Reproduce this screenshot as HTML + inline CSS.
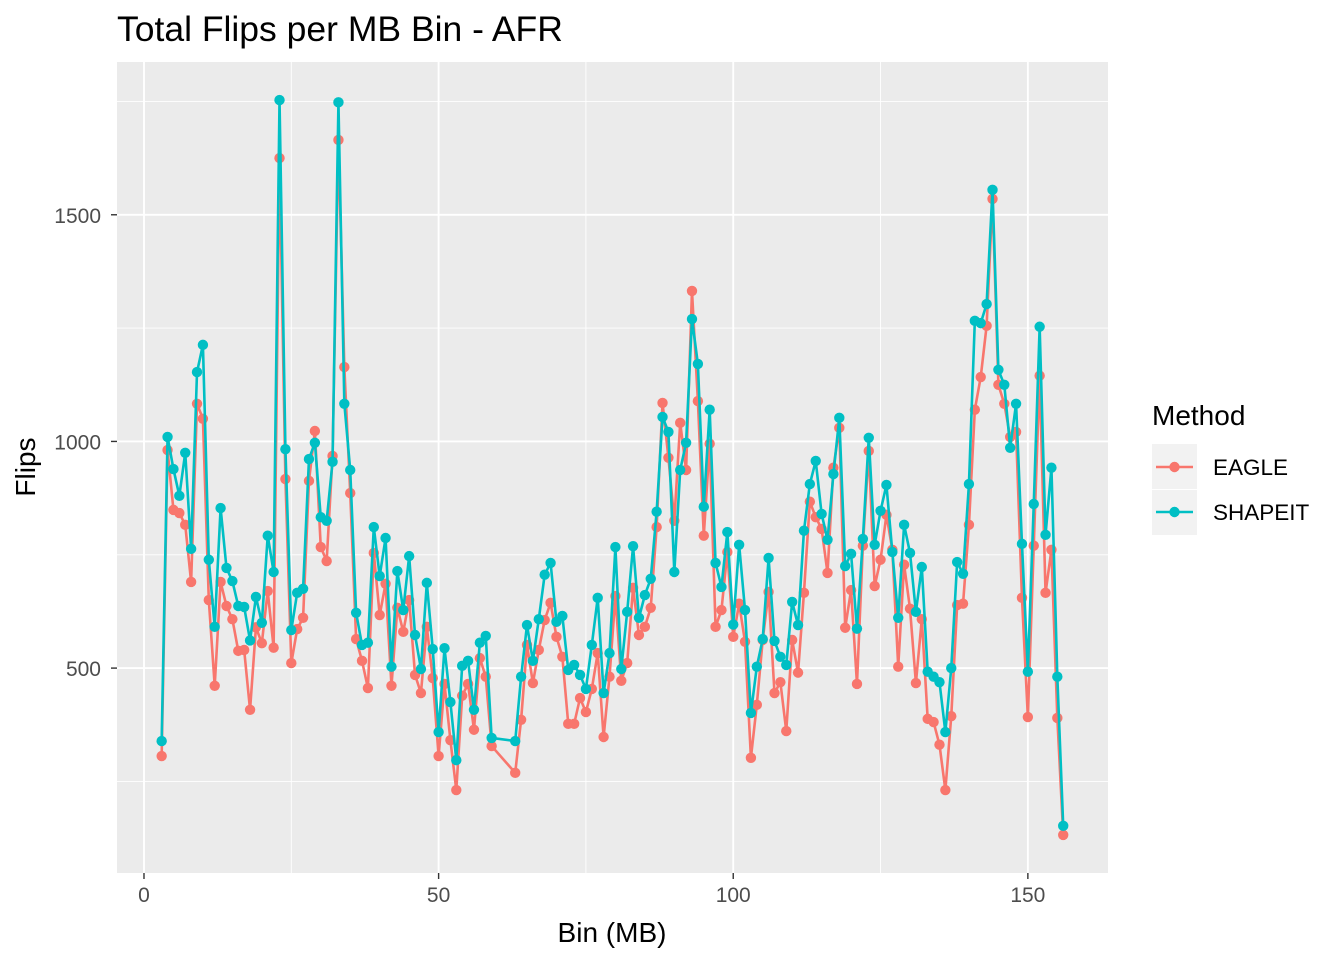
<!DOCTYPE html>
<html><head><meta charset="utf-8"><style>
body{margin:0;background:#fff;}
svg text{font-family:"Liberation Sans",sans-serif;}
</style></head><body>
<svg id="chart" width="1344" height="960" xmlns="http://www.w3.org/2000/svg">
<rect x="117" y="62" width="991" height="811" fill="#ebebeb"/>
<g id="grid"></g>
<g id="series"></g>
<g id="axes"></g>
<text x="117" y="41" font-size="35.5" fill="#000">Total Flips per MB Bin - AFR</text>
<text x="612" y="942" font-size="28" text-anchor="middle" fill="#000">Bin (MB)</text>
<text transform="translate(35,467) rotate(-90)" font-size="28" text-anchor="middle" fill="#000">Flips</text>
<g>
<text x="1152" y="425" font-size="28" fill="#000">Method</text>
<g>
<rect x="1152" y="444" width="45" height="45" fill="#f2f2f2"/>
<line x1="1156" y1="467" x2="1193" y2="467" stroke="#F8766D" stroke-width="2.6"/>
<circle cx="1174.5" cy="467" r="5.2" fill="#F8766D"/>
<text x="1213" y="475" font-size="22.5" fill="#000">EAGLE</text></g>
<g>
<rect x="1152" y="490" width="45" height="45" fill="#f2f2f2"/>
<line x1="1156" y1="512" x2="1193" y2="512" stroke="#00BFC4" stroke-width="2.6"/>
<circle cx="1174.5" cy="512" r="5.2" fill="#00BFC4"/>
<text x="1213" y="520" font-size="22.5" fill="#000">SHAPEIT</text></g>
</g>
</svg>
<script>
const bins = [3,4,5,6,7,8,9,10,11,12,13,14,15,16,17,18,19,20,21,22,23,24,25,26,27,28,29,30,31,32,33,34,35,36,37,38,39,40,41,42,43,44,45,46,47,48,49,50,51,52,53,54,55,56,57,58,59,63,64,65,66,67,68,69,70,71,72,73,74,75,76,77,78,79,80,81,82,83,84,85,86,87,88,89,90,91,92,93,94,95,96,97,98,99,100,101,102,103,104,105,106,107,108,109,110,111,112,113,114,115,116,117,118,119,120,121,122,123,124,125,126,127,128,129,130,131,132,133,134,135,136,137,138,139,140,141,142,143,144,145,146,147,148,149,150,151,152,153,154,155,156];
const eagle = [306,981,849,842,816,690,1083,1050,650,461,690,637,608,538,540,408,590,555,670,545,1625,917,511,586,611,913,1023,767,736,968,1665,1164,886,564,516,456,754,617,686,461,633,580,650,485,445,591,478,306,465,341,231,439,465,364,522,481,328,269,386,551,467,540,606,644,569,525,377,377,434,403,454,533,348,481,659,472,511,677,573,591,633,811,1085,964,825,1041,937,1332,1089,792,995,591,628,756,569,642,558,302,419,562,668,445,469,361,562,490,666,867,833,807,710,942,1030,589,672,465,770,979,681,739,838,761,503,728,631,467,608,388,381,331,231,394,639,642,816,1070,1142,1255,1535,1125,1083,1010,1021,655,392,770,1145,666,761,390,132];
const shapeit = [339,1010,939,880,975,763,1153,1213,739,591,853,721,692,637,635,561,657,600,792,712,1753,983,584,666,675,961,997,833,825,955,1748,1083,937,622,551,556,811,703,787,503,714,628,747,573,498,688,542,359,544,425,297,505,516,408,556,571,346,339,481,595,516,608,706,732,602,615,496,507,485,454,551,655,445,533,767,498,624,769,611,661,697,845,1054,1021,712,937,997,1270,1171,856,1070,732,679,800,596,772,628,401,503,564,743,560,525,507,646,595,803,906,957,840,783,928,1052,725,752,587,785,1008,772,847,904,756,611,816,754,624,723,492,481,469,359,500,734,708,906,1266,1261,1303,1555,1158,1125,986,1083,774,492,862,1253,794,942,481,152];
const xTicks = [0,50,100,150];
const yTicks = [500,1000,1500];
const xMinor = [25,75,125];
const yMinor = [250,750,1250,1750];

const X0=117,X1=1108,Y0=62,Y1=873;
const xMin=-4.58,xMax=163.6,yMin=48,yMax=1837;
function xs(v){return X0+(v-xMin)/(xMax-xMin)*(X1-X0);}
function ys(v){return Y1-(v-yMin)/(yMax-yMin)*(Y1-Y0);}
const NS="http://www.w3.org/2000/svg";
function mk(tag,attrs,parent){const e=document.createElementNS(NS,tag);for(const k in attrs)e.setAttribute(k,attrs[k]);parent.appendChild(e);return e;}
const grid=document.getElementById('grid'),axes=document.getElementById('axes'),series=document.getElementById('series');
yMinor.forEach(v=>{const l=mk('line',{x1:X0,x2:X1,y1:ys(v),y2:ys(v),stroke:'#fff','stroke-width':0.9},grid);

});
xMinor.forEach(v=>{const l=mk('line',{x1:xs(v),x2:xs(v),y1:Y0,y2:Y1,stroke:'#fff','stroke-width':0.9},grid);

});
yTicks.forEach(v=>{const l=mk('line',{x1:X0,x2:X1,y1:ys(v),y2:ys(v),stroke:'#fff','stroke-width':1.9},grid);


const t=mk('line',{x1:X0-6,x2:X0,y1:ys(v),y2:ys(v),stroke:'#333','stroke-width':1.4},axes);


const tx=mk('text',{x:X0-16,y:ys(v)+8,'font-size':21,'text-anchor':'end',fill:'#4d4d4d'},axes);tx.textContent=v;

});
xTicks.forEach(v=>{const l=mk('line',{x1:xs(v),x2:xs(v),y1:Y0,y2:Y1,stroke:'#fff','stroke-width':1.9},grid);


const t=mk('line',{x1:xs(v),x2:xs(v),y1:Y1,y2:Y1+6,stroke:'#333','stroke-width':1.4},axes);


const tx=mk('text',{x:xs(v),y:Y1+29,'font-size':21,'text-anchor':'middle',fill:'#4d4d4d'},axes);tx.textContent=v;

});
function draw(vals,color,name){
 const g=mk('g',{},series);
 
 
 const p=mk('polyline',{points:bins.map((b,i)=>xs(b)+','+ys(vals[i])).join(' '),fill:'none',stroke:color,'stroke-width':2.6,'stroke-linejoin':'round'},g);
 
 
 bins.forEach((b,i)=>{const c=mk('circle',{cx:xs(b),cy:ys(vals[i]),r:5.2,fill:color},g);
 
 });
}
draw(eagle,'#F8766D','eagle');
draw(shapeit,'#00BFC4','shapeit');
</script>
</body></html>
